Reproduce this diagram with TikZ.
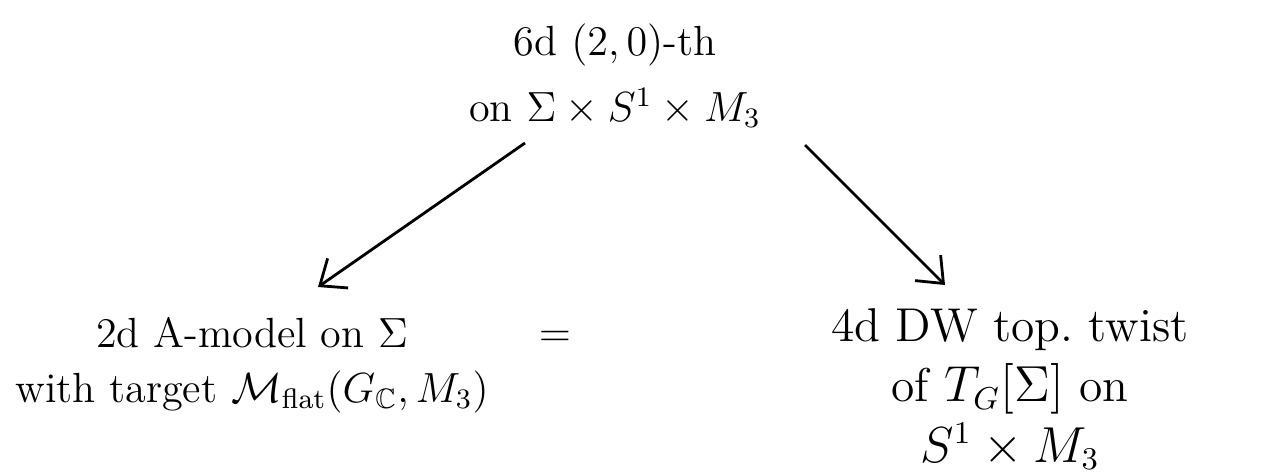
\documentclass[tikz,border=0pt]{standalone}
\usepackage{amssymb,amsfonts,amsmath}
\usetikzlibrary{positioning}
\usetikzlibrary{arrows.meta}
\tikzset{barb/.style = {-{Straight Barb[length=2.2mm,width=3.6mm]}}}
\tikzset{txt/.style = {align=center, inner sep=0,
                       font=\fontsize{12}{15.6}\selectfont}}
\tikzset{
  every picture/.style={
    every path/.style={thick},
  }
}

\begin{document}
\begin{tikzpicture}
          \useasboundingbox (0,0) rectangle (12.67,4.75);
          \node[txt] (sixd) at (6.15,3.99)
            {6d $(2,0)$-th\\[3pt] on $\Sigma\times S^1\times M_3$};
          \node[txt] (amodel) at (2.52,1.1)
            {2d A-model on $\Sigma$\\ with target
             $\mathcal{M}_{\mathrm{flat}}(G_{\mathbb{C}},M_3)$};
          \node[txt, font=\fontsize{13.5}{17.2}\selectfont] (dw) at (10.1,0.86)
            {4d DW top.\ twist\\ of $T_G[\Sigma]$ on\\ $S^1\times M_3$};
          \node[txt] (eq) at (5.55,1.36) {$=$};
          % arrow ends
          \coordinate (sl) at (5.25,3.32);
          \coordinate (el) at (3.18,1.88);
          \coordinate (sr) at (8.05,3.30);
          \coordinate (er) at (9.45,1.90);
          \draw[barb] (sl) -- (el);
          \draw[barb] (sr) -- (er);
        \end{tikzpicture}
\end{document}
